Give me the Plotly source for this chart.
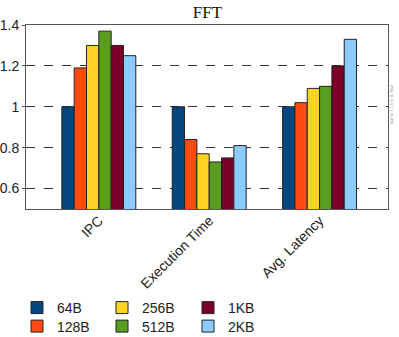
import plotly.graph_objects as go

categories = ["IPC", "Execution Time", "Avg. Latency"]
series_names = ["64B", "128B", "256B", "512B", "1KB", "2KB"]
values_64B = [1.00, 1.00, 1.00]
values_128B = [1.19, 0.84, 1.02]
values_256B = [1.30, 0.77, 1.09]
values_512B = [1.37, 0.73, 1.10]
values_1KB = [1.30, 0.75, 1.20]
values_2KB = [1.25, 0.81, 1.33]
series_values = [values_64B, values_128B, values_256B, values_512B, values_1KB, values_2KB]
colors = ["#06467f", "#ff4a14", "#ffd324", "#5a9d20", "#7a0028", "#8ccbff"]
legend_ids = ["legend", "legend2", "legend3", "legend4", "legend5", "legend6"]
y_ticks = [0.6, 0.8, 1.0, 1.2, 1.4]
y_tick_labels = ["0.6", "0.8", "1", "1.2", "1.4"]

fig = go.Figure()
for name, vals, col, lg in zip(series_names, series_values, colors, legend_ids):
    fig.add_trace(go.Bar(
        x=categories, y=vals, name=name, legend=lg, showlegend=True,
        marker=dict(color=col, line=dict(color="#222222", width=1)),
    ))

font = dict(family="Liberation Sans, Arial, sans-serif", size=14, color="#222222")

FW, FH = 399, 337
# plot area: x 26..388, y 25..209
L, R, T, B = 26, 388, 25, 209


def leg(text_x_px, row_center_px):
    return dict(orientation="v", xanchor="left", yanchor="middle",
                xref="container", yref="container",
                x=(text_x_px - 40) / FW, y=1 - row_center_px / FH,
                bgcolor="rgba(0,0,0,0)", font=font, itemwidth=30,
                borderwidth=0)


col_text_x = [57, 142, 228]
row_y = [308, 326.5]

fig.update_layout(
    width=FW, height=FH,
    margin=dict(l=L, r=FW - R, t=T, b=FH - B, autoexpand=False),
    paper_bgcolor="white", plot_bgcolor="white",
    showlegend=True,
    barmode="group", bargap=0.33, bargroupgap=0,
    title=dict(text="FFT", x=0.52, xanchor="center", y=0.965, yanchor="middle",
               font=dict(family="Liberation Serif, Times New Roman, serif", size=17, color="#111111")),
    font=font,
    legend=leg(col_text_x[0], row_y[0]),
    legend2=leg(col_text_x[0], row_y[1]),
    legend3=leg(col_text_x[1], row_y[0]),
    legend4=leg(col_text_x[1], row_y[1]),
    legend5=leg(col_text_x[2], row_y[0]),
    legend6=leg(col_text_x[2], row_y[1]),
    xaxis=dict(range=[-0.66, 2.62], tickangle=-45, showline=True, mirror=True,
               linecolor="#555555", linewidth=1, showgrid=False, ticks="",
               tickfont=font, automargin=False, ticklabelstandoff=-3),
    yaxis=dict(range=[0.5, 1.4], tickvals=y_ticks, ticktext=y_tick_labels,
               showline=True, mirror=True, linecolor="#555555", linewidth=1,
               showgrid=True, gridcolor="#333333", griddash="dash", gridwidth=1,
               zeroline=False, ticks="outside", ticklen=3, tickcolor="#555555",
               tickfont=font, automargin=False),
    annotations=[dict(text="BarPlot 1.1.6 by B. Thul", xref="paper", yref="paper",
                      x=1.022, y=0.57, textangle=-90, showarrow=False,
                      font=dict(size=4, color="#888888", family="Liberation Serif"))],
)

fig.write_html("out.html")
